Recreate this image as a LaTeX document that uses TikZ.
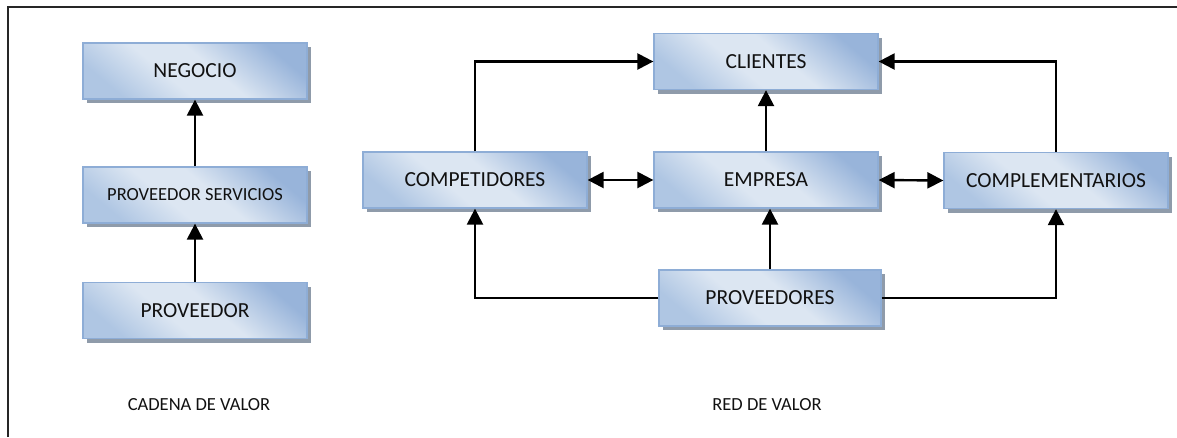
\documentclass[tikz,border=0pt]{standalone}
\usepackage{fontspec}
\setmainfont{Carlito}
\usetikzlibrary{arrows.meta,shadows}

\definecolor{shTop}{HTML}{98B4DA}
\definecolor{shMid}{HTML}{DCE6F2}
\definecolor{shBot}{HTML}{AFC6E3}
\definecolor{bxborder}{HTML}{8EADD6}
\definecolor{shgray}{HTML}{8F9BAA}
\definecolor{txt}{HTML}{111111}

% soft blue gradient used for every box
\pgfdeclareverticalshading{boxshade}{100bp}{%
  color(0bp)=(shBot); color(25bp)=(shBot); color(42bp)=(shMid);
  color(55bp)=(shMid); color(75bp)=(shTop); color(100bp)=(shTop)}

\tikzset{
  box/.style={rectangle, minimum width=224pt, minimum height=56pt,
    inner sep=0pt, draw=bxborder, line width=1.3pt,
    shading=boxshade, shading angle=-40,
    general shadow={shadow xshift=4pt, shadow yshift=-4pt, fill=shgray},
    text=txt, font=\fontsize{21.5}{21.5}\selectfont},
  arr/.style={line width=2.4pt, -{Triangle[length=16pt,width=16pt]}},
  arrtwo/.style={line width=2.4pt, {Triangle[length=16pt,width=16pt]}-{Triangle[length=16pt,width=16pt]}},
  caption/.style={text=txt, font=\fontsize{18.5}{18.5}\selectfont}
}

\begin{document}
\begin{tikzpicture}[x=1pt, y=-1pt]
\useasboundingbox (0,0) rectangle (1177,437);

% outer frame (top and left edges)
\draw[line width=1.8pt, black!85] (8,437) -- (8,7) -- (1177,7);

% value chain
\node[box] (neg) at (195,71) {NEGOCIO};
\node[box, font=\fontsize{18.5}{18.5}\selectfont] (ps) at (195,195) {PROVEEDOR SERVICIOS};
\node[box] (pv) at (195,310.5) {PROVEEDOR};
\node[caption] (cv) at (199,405) {CADENA DE VALOR};

\draw[arr] (pv.north) -- (ps.south);
\draw[arr] (ps.north) -- (neg.south);

% value network
\node[box] (cli) at (766,61.5) {CLIENTES};
\node[box] (comp) at (475,180) {COMPETIDORES};
\node[box] (emp) at (766,180) {EMPRESA};
\node[box] (compl) at (1056,180.5) {COMPLEMENTARIOS};
\node[box, minimum width=222pt] (prov) at (770,298) {PROVEEDORES};
\node[caption] (rv) at (767,405) {RED DE VALOR};

\draw[arr] (comp.north) |- (cli.west);
\draw[arr] (compl.north) |- (cli.east);
\draw[arr] (emp.north) -- (cli.south);
\draw[arrtwo] (comp.east) -- (emp.west);
\draw[arrtwo] (emp.east) -- (compl.west);
\draw[arr] (prov.north) -- (prov.north |- emp.south);
\draw[arr] (prov.west) -| (comp.south);
\draw[arr] (prov.east) -| (compl.south);
\end{tikzpicture}
\end{document}
